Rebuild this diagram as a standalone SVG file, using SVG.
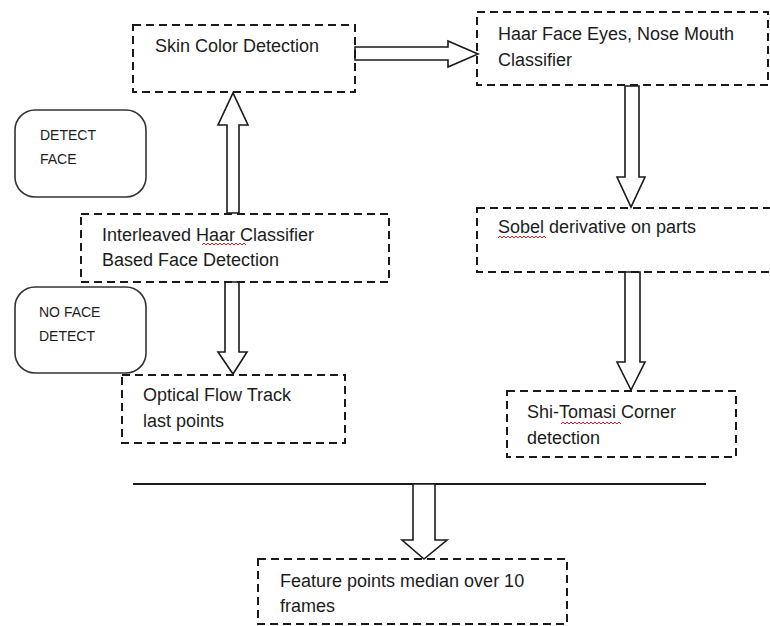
<svg xmlns="http://www.w3.org/2000/svg" width="770" height="626" viewBox="0 0 770 626">
<style>
.box{fill:none;stroke:#1a1a1a;stroke-width:2;stroke-dasharray:8 5}
.rbox{fill:#fff;stroke:#333;stroke-width:1.6}
.arr{fill:#fff;stroke:#1a1a1a;stroke-width:1.6;stroke-linejoin:miter}
.t{font-family:"Liberation Sans",Arial,sans-serif;font-size:18px;fill:#1c1c1c}
.s{font-family:"Liberation Sans",Arial,sans-serif;font-size:14px;fill:#1c1c1c}
.sq{fill:none;stroke:#e02020;stroke-width:1}
</style>
<rect width="770" height="626" fill="#fff"/>
<g id="connectors">
<polygon class="arr" points="355,47 448,47 448,41 478,54 448,67 448,60 355,60"/>
<polygon class="arr" points="227,213 227,125 218,125 233,93 248,125 239,125 239,213"/>
<polygon class="arr" points="225,282 225,352 218,352 233,374 247,352 239,352 239,282"/>
<polygon class="arr" points="625,86 625,177 617,177 631,207 645,177 639,177 639,86"/>
<polygon class="arr" points="625,272 625,362 617,362 631,390 645,362 640,362 640,272"/>
<line x1="133" y1="484" x2="706" y2="484" stroke="#1a1a1a" stroke-width="2"/>
<polygon class="arr" points="413,484 413,540 402,540 424,559 447,540 435,540 435,484"/>
</g>
<g id="skin">
<rect class="box" x="133" y="25" width="222" height="67"/>
<text class="t" x="155" y="52">Skin Color Detection</text>
</g>
<g id="haar">
<rect class="box" x="477" y="12" width="291" height="73"/>
<text class="t" x="498" y="40">Haar Face Eyes, Nose Mouth</text>
<text class="t" x="498" y="66">Classifier</text>
</g>
<g id="detect-face">
<rect class="rbox" x="15" y="110" width="131" height="87" rx="20"/>
<text class="s" x="40" y="140">DETECT</text>
<text class="s" x="40" y="164">FACE</text>
</g>
<g id="interleaved">
<rect class="box" x="81" y="214" width="308" height="68"/>
<text class="t" x="102" y="241">Interleaved Haar Classifier</text>
<text class="t" x="102" y="266">Based Face Detection</text>
<path class="sq" d="M202,245 l2,-2 l2,2 l2,-2 l2,2 l2,-2 l2,2 l2,-2 l2,2 l2,-2 l2,2 l2,-2 l2,2 l2,-2 l2,2 l2,-2 l2,2 l2,-2 l2,2 l2,-2 l2,2 l2,-2 l2,2"/>
</g>
<g id="no-face">
<rect class="rbox" x="15" y="287" width="131" height="86" rx="20"/>
<text class="s" x="39" y="317">NO FACE</text>
<text class="s" x="39" y="341">DETECT</text>
</g>
<g id="optical">
<rect class="box" x="122" y="375" width="223" height="68"/>
<text class="t" x="143" y="401">Optical Flow Track</text>
<text class="t" x="143" y="427">last points</text>
</g>
<g id="sobel">
<rect class="box" x="477" y="208" width="296" height="64"/>
<text class="t" x="498" y="233">Sobel derivative on parts</text>
<path class="sq" d="M498,238 l2,-2 l2,2 l2,-2 l2,2 l2,-2 l2,2 l2,-2 l2,2 l2,-2 l2,2 l2,-2 l2,2 l2,-2 l2,2 l2,-2 l2,2 l2,-2 l2,2 l2,-2 l2,2 l2,-2 l2,2 l2,-2 l2,2"/>
</g>
<g id="shi">
<rect class="box" x="507" y="391" width="229" height="66"/>
<text class="t" x="527" y="418">Shi-Tomasi Corner</text>
<text class="t" x="527" y="444">detection</text>
<path class="sq" d="M561,424 l2,-2 l2,2 l2,-2 l2,2 l2,-2 l2,2 l2,-2 l2,2 l2,-2 l2,2 l2,-2 l2,2 l2,-2 l2,2 l2,-2 l2,2 l2,-2 l2,2 l2,-2 l2,2 l2,-2 l2,2 l2,-2 l2,2 l2,-2 l2,2 l2,-2 l2,2 l2,-2 l2,2"/>
</g>
<g id="feature">
<rect class="box" x="258" y="559" width="309" height="65"/>
<text class="t" x="280" y="587">Feature points median over 10</text>
<text class="t" x="280" y="612">frames</text>
</g>
</svg>
